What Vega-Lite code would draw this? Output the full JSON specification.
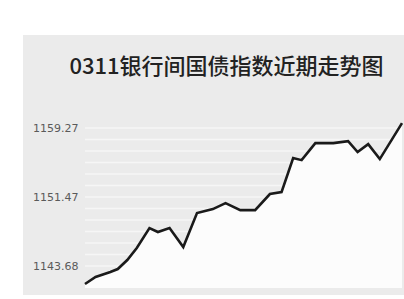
{
  "$schema": "https://vega.github.io/schema/vega-lite/v6.json",
  "width": 317,
  "height": 170,
  "autosize": "none",
  "padding": {"left": 85, "top": 118, "right": 2, "bottom": 11},
  "background": "white",
  "config": {"view": {"stroke": null}},
  "title": {
    "text": "0311银行间国债指数近期走势图",
    "font": "Noto Sans CJK SC",
    "fontSize": 22,
    "fontWeight": 500,
    "color": "#222222",
    "anchor": "middle",
    "frame": "group",
    "dx": -17,
    "offset": -44
  },
  "datasets": {
    "series": [
      {"t": 0, "v": 1141.65},
      {"t": 1, "v": 1142.44},
      {"t": 2.4, "v": 1143.0},
      {"t": 3.1, "v": 1143.34},
      {"t": 4, "v": 1144.36},
      {"t": 4.9, "v": 1145.71},
      {"t": 6.1, "v": 1147.97},
      {"t": 6.9, "v": 1147.52},
      {"t": 8, "v": 1147.97},
      {"t": 9.3, "v": 1145.82},
      {"t": 10.6, "v": 1149.66},
      {"t": 12.1, "v": 1150.11},
      {"t": 13.3, "v": 1150.79},
      {"t": 14.7, "v": 1150.0},
      {"t": 16.1, "v": 1150.0},
      {"t": 17.5, "v": 1151.81},
      {"t": 18.6, "v": 1152.03},
      {"t": 19.7, "v": 1155.87},
      {"t": 20.5, "v": 1155.64},
      {"t": 21.8, "v": 1157.56},
      {"t": 23.5, "v": 1157.56},
      {"t": 24.9, "v": 1157.79},
      {"t": 25.8, "v": 1156.55},
      {"t": 26.8, "v": 1157.45},
      {"t": 27.9, "v": 1155.76},
      {"t": 30, "v": 1159.82}
    ],
    "grid": [
      {"g": 1143.68}, {"g": 1144.98}, {"g": 1146.28}, {"g": 1147.58},
      {"g": 1148.88}, {"g": 1150.18}, {"g": 1151.47}, {"g": 1152.78},
      {"g": 1154.08}, {"g": 1155.38}, {"g": 1156.68}, {"g": 1157.98},
      {"g": 1159.27}
    ]
  },
  "layer": [
    {
      "data": {"values": [{}]},
      "mark": {"type": "rect", "color": "#ebebeb"},
      "encoding": {
        "x": {"datum": -5.87, "type": "quantitative", "scale": {"domain": [0, 30], "nice": false, "zero": false}, "axis": null},
        "x2": {"datum": 30.3},
        "y": {"datum": 1169.77, "type": "quantitative", "scale": {"domain": [1141.2, 1160.4], "nice": false, "zero": false},
          "axis": {
            "values": [1143.68, 1151.47, 1159.27],
            "format": ".2f",
            "grid": false,
            "domain": false,
            "ticks": false,
            "zindex": 2,
            "labelPadding": 7,
            "labelFont": "DejaVu Sans",
            "labelFontSize": 11,
            "labelColor": "#5a5a5a",
            "title": null
          }
        },
        "y2": {"datum": 1140.41}
      }
    },
    {
      "data": {"name": "grid"},
      "mark": {"type": "rule", "color": "#f6f6f6", "strokeWidth": 1.5},
      "encoding": {
        "y": {"field": "g", "type": "quantitative"},
        "x": {"datum": 0, "type": "quantitative"},
        "x2": {"datum": 30}
      }
    },
    {
      "data": {"name": "series"},
      "mark": {"type": "area", "color": "#fcfcfc"},
      "encoding": {
        "x": {"field": "t", "type": "quantitative"},
        "y": {"field": "v", "type": "quantitative"},
        "y2": {"datum": 1141.2}
      }
    },
    {
      "data": {"name": "series"},
      "mark": {"type": "line", "color": "#1a1a1a", "strokeWidth": 2.6, "strokeJoin": "miter"},
      "encoding": {
        "x": {"field": "t", "type": "quantitative"},
        "y": {"field": "v", "type": "quantitative"}
      }
    }
  ]
}
